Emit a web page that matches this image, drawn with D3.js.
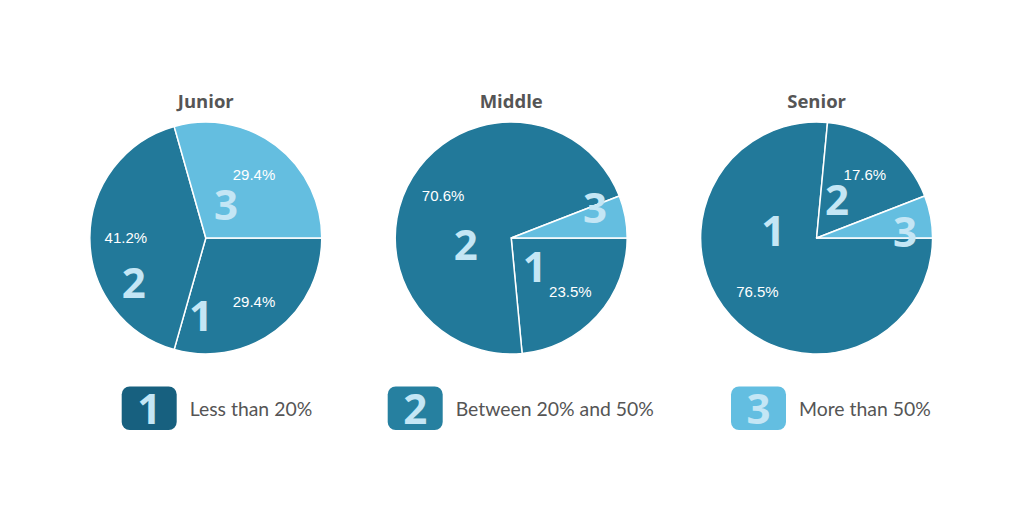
<!DOCTYPE html>
<html>
<head>
<meta charset="utf-8">
<script src="https://cdn.jsdelivr.net/npm/d3@7"></script>
<style>
  html, body { margin: 0; padding: 0; background: #fff; }
  svg { display: block; }
</style>
</head>
<body>
<svg id="chart" width="1024" height="520"></svg>
<script>
// ---- data ----
const groups = ["Junior", "Middle", "Senior"];
const categories = ["1", "2", "3"];
const categoryLabels = ["Less than 20%", "Between 20% and 50%", "More than 50%"];
const juniorValues = [29.4, 41.2, 29.4];
const middleValues = [23.5, 70.6, 5.9];
const seniorValues = [76.5, 17.6, 5.9];
const seriesValues = [juniorValues, middleValues, seniorValues];

// ---- layout / style ----
const W = 1024, H = 520;
const R = 116, CY = 238;
const sliceColors = ["#22799a", "#22799a", "#64bee0"];
const legendColors = ["#17607f", "#2680a0", "#63bee1"];
const numberColor = "#c4e6f5";
// hand-placed big-number anchors per pie: [angle deg clockwise from north, radius]
const numberAnchors = [
  [[183.5, 78], [238, 85], [31, 39]],
  [[141, 37.5], [261, 46], [70.5, 89]],
  [[279.6, 44], [28.2, 43], [86, 88.5]]
];

const svg = d3.select("#chart");
const xScale = d3.scalePoint().domain(groups).range([205.8, 816.6]);
const color = d3.scaleOrdinal().domain(categories).range(sliceColors);

const pie = d3.pie().sort(null).value(d => d.value)
  .startAngle(Math.PI / 2).endAngle(Math.PI / 2 + 2 * Math.PI);
const arc = d3.arc().innerRadius(0).outerRadius(R);
const labelArc = d3.arc().innerRadius(80).outerRadius(80);

groups.forEach((g, gi) => {
  const data = categories.map((c, i) => ({ cat: c, value: seriesValues[gi][i] }));
  const arcs = pie(data);
  const gEl = svg.append("g").attr("transform", `translate(${xScale(g)},${CY})`);

  gEl.selectAll("path.slice").data(arcs).join("path")
    .attr("class", "slice")
    .attr("d", arc)
    .attr("fill", d => color(d.data.cat))
    .attr("stroke", "#ffffff")
    .attr("stroke-width", 1.5)
    .attr("stroke-linejoin", "round");

  gEl.selectAll("text.pct").data(arcs.filter(d => d.data.value >= 10)).join("text")
    .attr("class", "pct")
    .attr("transform", d => `translate(${labelArc.centroid(d)})`)
    .attr("text-anchor", "middle")
    .attr("dy", "0.36em")
    .attr("font-family", "'Liberation Sans', Arial, sans-serif")
    .attr("font-size", 15)
    .attr("fill", "#ffffff")
    .text(d => d.data.value.toFixed(1) + "%");

  gEl.selectAll("text.num").data(arcs).join("text")
    .attr("class", "num")
    .attr("transform", (d, i) => {
      const [a, r] = numberAnchors[gi][i];
      const rad = a * Math.PI / 180;
      return `translate(${r * Math.sin(rad)},${-r * Math.cos(rad)})`;
    })
    .attr("text-anchor", "middle")
    .attr("dy", "0.36em")
    .attr("font-family", "'Open Sans', sans-serif")
    .attr("font-weight", 700)
    .attr("font-size", 42)
    .attr("fill", numberColor)
    .text(d => d.data.cat);

  svg.append("text")
    .attr("x", xScale(g))
    .attr("y", 108)
    .attr("text-anchor", "middle")
    .attr("font-family", "'Open Sans', sans-serif")
    .attr("font-weight", 700)
    .attr("font-size", 18.5)
    .attr("fill", "#555555")
    .text(g);
});

// ---- legend ----
const legendX = [121.7, 387.7, 731];
const legend = svg.append("g");
categories.forEach((c, i) => {
  const lg = legend.append("g").attr("transform", `translate(${legendX[i]},386.5)`);
  lg.append("rect")
    .attr("width", 55).attr("height", 43.5)
    .attr("rx", 8).attr("ry", 8)
    .attr("fill", legendColors[i]);
  lg.append("text")
    .attr("x", 27.5).attr("y", 22)
    .attr("dy", "0.36em")
    .attr("text-anchor", "middle")
    .attr("font-family", "'Open Sans', sans-serif")
    .attr("font-weight", 700)
    .attr("font-size", 42)
    .attr("fill", numberColor)
    .text(c);
  lg.append("text")
    .attr("x", 68)
    .attr("y", 29)
    .attr("font-family", "Lato, sans-serif")
    .attr("font-size", 19.4)
    .attr("fill", "#555555")
    .text(categoryLabels[i]);
});
</script>
</body>
</html>
